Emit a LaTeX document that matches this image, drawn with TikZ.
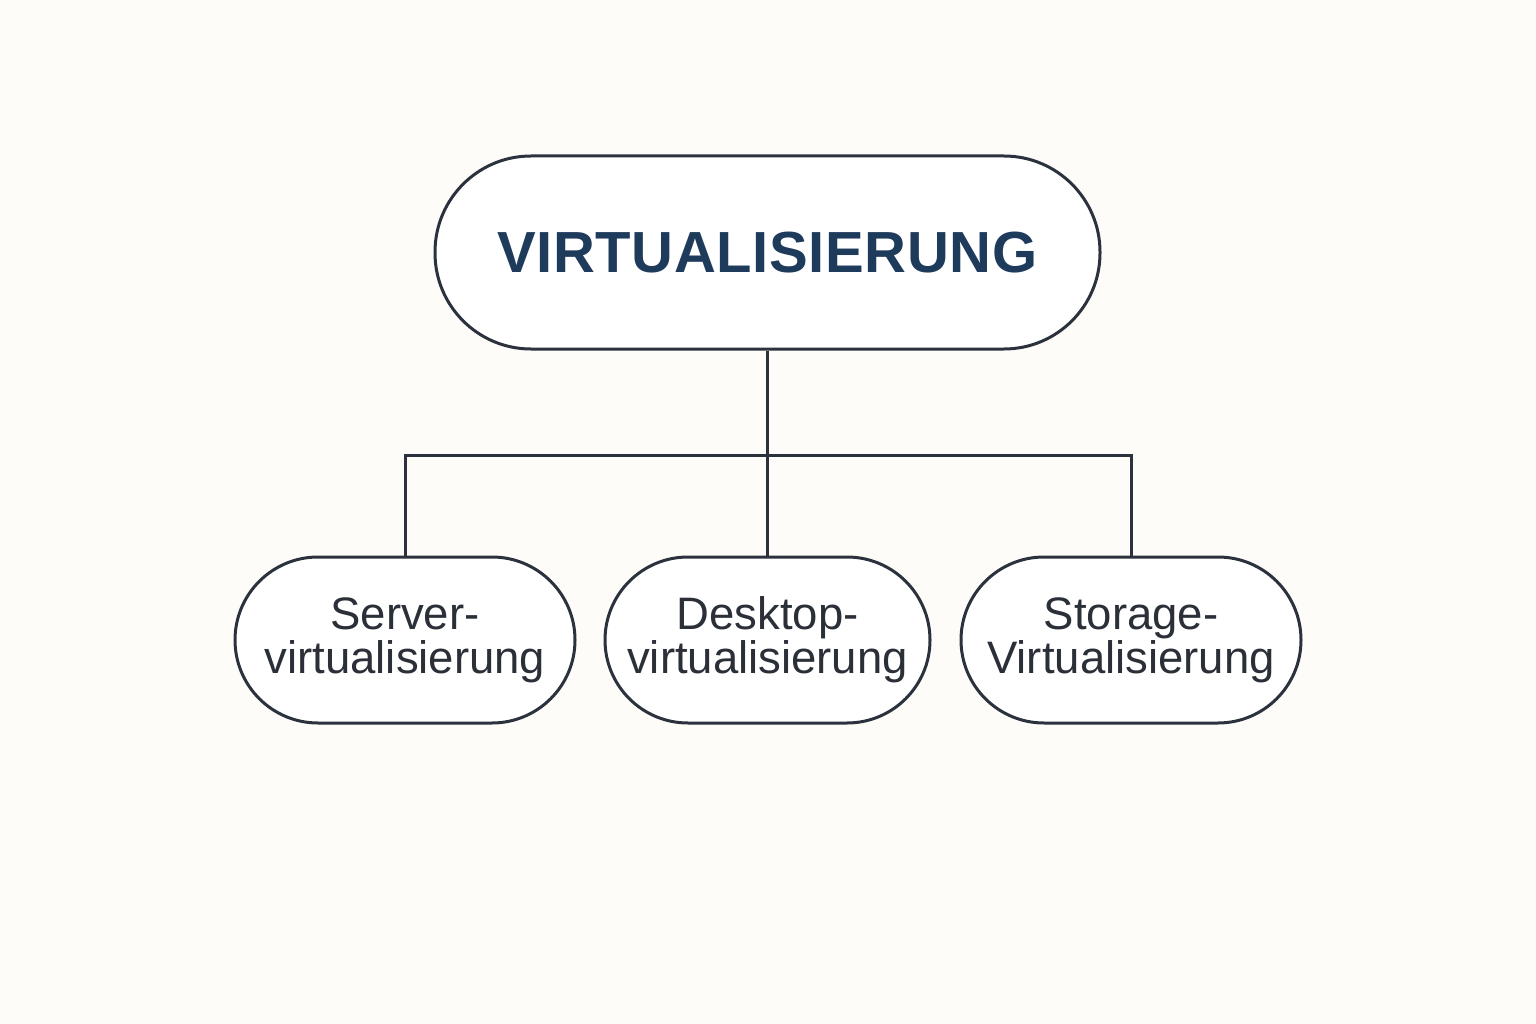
\documentclass[tikz,border=0pt]{standalone}
\usepackage{fontspec}
\setmainfont{Liberation Sans}
\newfontfamily\titlefont[LetterSpace=1.0]{Liberation Sans}
\definecolor{bg}{HTML}{FDFCF8}
\definecolor{ln}{HTML}{2B323D}
\definecolor{title}{HTML}{1F3B5C}
\definecolor{txt}{HTML}{2A2F38}
\begin{document}
\begin{tikzpicture}[x=1pt,y=-1pt,
  box/.style={draw=ln, line width=3pt, fill=white, rounded corners=83pt,
    minimum height=166pt, inner sep=0pt, align=center, text=txt,
    font=\fontsize{45.5}{44}\selectfont},
  conn/.style={draw=ln, line width=3pt}]
\fill[bg] (0,0) rectangle (1536,1024);
\useasboundingbox (0,0) rectangle (1536,1024);
\node[draw=ln, line width=3pt, fill=white, rounded corners=96pt,
  minimum width=665pt, minimum height=193pt, inner sep=0pt, text=title,
  font=\titlefont\fontsize{58}{60}\selectfont\bfseries] (top) at (767.5,252.5) {VIRTUALISIERUNG};
\node[box, minimum width=340pt] (s1) at (405,640) {Server-\\virtualisierung};
\node[box, minimum width=325pt] (s2) at (767.5,640) {Desktop-\\virtualisierung};
\node[box, minimum width=340pt] (s3) at (1131,640) {Storage-\\Virtualisierung};
\coordinate (j) at (767.5,455);
\draw[conn] (top.south) -- (s2.north);
\draw[conn] (s1.north) -- (s1.north |- j) -- (s3.north |- j) -- (s3.north);
\end{tikzpicture}
\end{document}
